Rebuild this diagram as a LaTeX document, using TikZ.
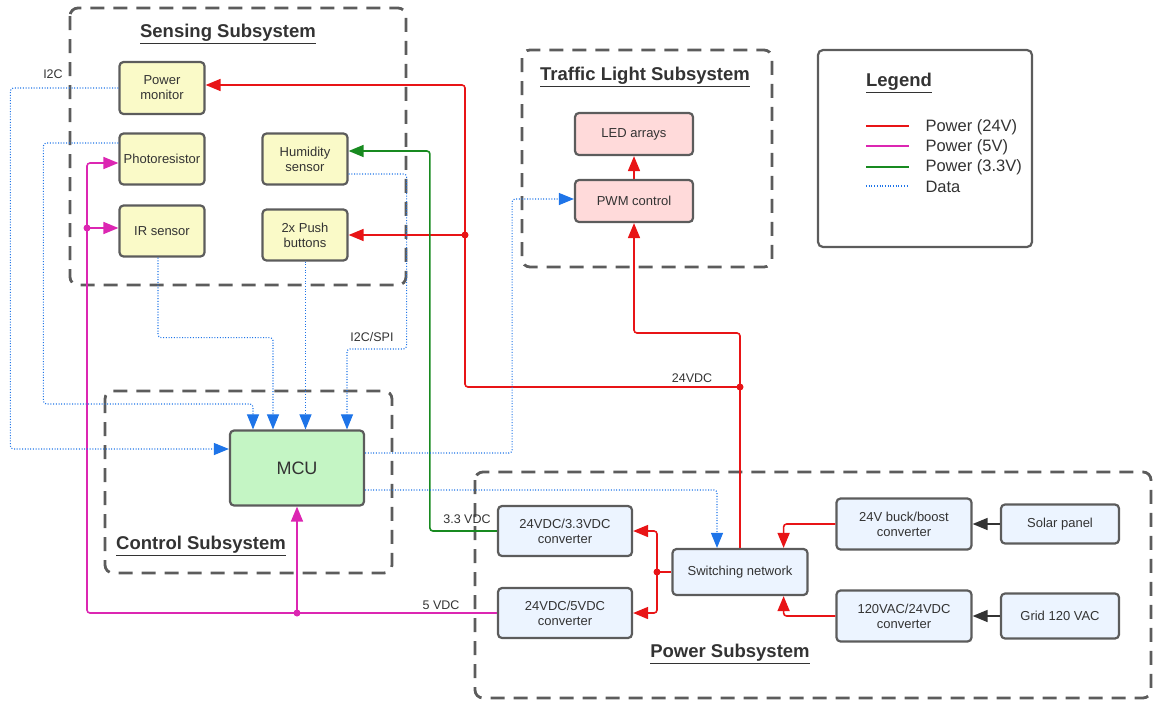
\documentclass[tikz,border=0pt]{standalone}
\usepackage{fontspec}
\setmainfont{Liberation Sans}
\usetikzlibrary{arrows.meta,positioning}
\definecolor{pwrred}{RGB}{232,20,22}
\definecolor{pwrmag}{RGB}{220,38,178}
\definecolor{pwrgreen}{RGB}{24,138,32}
\definecolor{datablue}{RGB}{30,116,232}
\definecolor{framegray}{RGB}{92,92,92}
\definecolor{sensefill}{RGB}{250,250,200}
\definecolor{ledfill}{RGB}{255,218,218}
\definecolor{mcufill}{RGB}{196,245,196}
\definecolor{pwrfill}{RGB}{236,244,255}
\definecolor{txtgray}{RGB}{51,51,51}

\begin{document}
\begin{tikzpicture}[x=1pt,y=-1pt,
    every node/.style={font=\fontsize{13}{15}\selectfont,text=txtgray},
    box/.style={draw=framegray,line width=2.2pt,rounded corners=4pt,align=center,inner sep=2pt},
    frame/.style={draw=framegray,line width=2.8pt,rounded corners=8pt,dash pattern=on 14pt off 9pt},
    title/.style={font=\fontsize{18.5}{22}\selectfont\bfseries},
    lbl/.style={font=\fontsize{12.5}{15}\selectfont},
    p24/.style={draw=pwrred,line width=1.6pt,rounded corners=3pt},
    p5/.style={draw=pwrmag,line width=1.6pt,rounded corners=3pt},
    p33/.style={draw=pwrgreen,line width=1.6pt,rounded corners=3pt},
    dat/.style={draw=datablue,line width=1.1pt,rounded corners=3pt,dash pattern=on 1pt off 1.7pt},
    blk/.style={draw=txtgray,line width=1.6pt},
    tip/.style={-{Triangle[length=15pt,width=12pt]}},
    jdot/.style={circle,inner sep=0pt,minimum size=7pt}]

  \useasboundingbox (0,0) rectangle (1153,702);

  % Subsystem frames
  \draw[frame] (70,8) rectangle (406,285);
  \draw[frame] (522,50) rectangle (772,267);
  \draw[frame] (105,391) rectangle (392,573);
  \draw[frame] (475,472) rectangle (1151,698);
  \draw[draw=framegray,line width=2.2pt,rounded corners=5pt] (818,50) rectangle (1032,247);

  \node[title] (tsense) at (228,34) {\underline{Sensing Subsystem}};
  \node[title] (ttraffic) at (645,77) {\underline{Traffic Light Subsystem}};
  \node[title] (tlegend) at (899,83) {\underline{Legend}};
  \node[title] (tcontrol) at (201,546) {\underline{Control Subsystem}};
  \node[title] (tpower) at (730,654) {\underline{Power Subsystem}};

  % Sensing boxes
  \node[box,fill=sensefill,minimum width=85,minimum height=52] (pmon) at (162,88) {Power\\monitor};
  \node[box,fill=sensefill,minimum width=85,minimum height=51] (photo) at (162,159) {Photoresistor};
  \node[box,fill=sensefill,minimum width=85,minimum height=51] (ir) at (162,231) {IR sensor};
  \node[box,fill=sensefill,minimum width=85,minimum height=51] (hum) at (305,159) {Humidity\\sensor};
  \node[box,fill=sensefill,minimum width=85,minimum height=51] (pbtn) at (305,235) {2x Push\\buttons};

  % Traffic light boxes
  \node[box,fill=ledfill,minimum width=118,minimum height=42] (led) at (634,134) {LED arrays};
  \node[box,fill=ledfill,minimum width=118,minimum height=42] (pwm) at (634,201) {PWM control};

  % Control
  \node[box,fill=mcufill,minimum width=134,minimum height=75,font=\fontsize{18}{21}\selectfont] (mcu) at (297,468) {MCU};

  % Power boxes
  \node[box,fill=pwrfill,minimum width=134,minimum height=50] (c33) at (565,531) {24VDC/3.3VDC\\converter};
  \node[box,fill=pwrfill,minimum width=134,minimum height=50] (c5) at (565,613) {24VDC/5VDC\\converter};
  \node[box,fill=pwrfill,minimum width=135,minimum height=46] (swnet) at (740,572) {Switching network};
  \node[box,fill=pwrfill,minimum width=135,minimum height=51] (buck) at (904,524) {24V buck/boost\\converter};
  \node[box,fill=pwrfill,minimum width=135,minimum height=51] (acdc) at (904,616) {120VAC/24VDC\\converter};
  \node[box,fill=pwrfill,minimum width=118,minimum height=39] (solar) at (1060,524) {Solar panel};
  \node[box,fill=pwrfill,minimum width=118,minimum height=45] (grid) at (1060,616) {Grid 120 VAC};

  % Junctions
  \coordinate (j24) at (740,387);
  \coordinate (jpb) at (465,235);
  \coordinate (jsw) at (657,572);
  \coordinate (j5a) at (87,228);
  \coordinate (j5b) at (297,613);

  % 24V power
  \draw[p24,tip] (swnet.north) -- (j24) -| (jpb) |- ([yshift=3pt]pmon.east);
  \draw[p24,tip] (jpb) -- (pbtn.east);
  \draw[p24,tip] (j24) -- ++(0,-54) -| (pwm.south);
  \draw[p24,tip] (pwm) -- (led);
  \draw[p24,tip] (buck.west) -| ([xshift=-25pt]swnet.north east);
  \draw[p24,tip] (acdc.west) -| ([xshift=-25pt]swnet.south east);
  \draw[p24] (swnet.west) -- (jsw);
  \draw[p24,tip] (jsw) |- (c33.east);
  \draw[p24,tip] (jsw) |- (c5.east);
  \node[jdot,fill=pwrred] (d24) at (j24) {};
  \node[jdot,fill=pwrred] (dpb) at (jpb) {};
  \node[jdot,fill=pwrred] (dsw) at (jsw) {};
  \node[lbl] (l24) at (692,378) {24VDC};

  \draw[blk,tip] (solar) -- (buck);
  \draw[blk,tip] (grid) -- (acdc);

  % 3.3V power
  \draw[p33,tip] (c33.west) -- ++(-67,0) |- ([yshift=8pt]hum.east);
  \node[lbl] (l33) at (467,519) {3.3 VDC};

  % 5V power
  \draw[p5,tip] (c5.west) -| (j5a) |- ([yshift=-4pt]photo.west);
  \draw[p5,tip] (j5a) -- (ir.west |- j5a);
  \draw[p5,tip] (j5b) -- (mcu.south);
  \node[jdot,fill=pwrmag] (d5a) at (j5a) {};
  \node[jdot,fill=pwrmag] (d5b) at (j5b) {};
  \node[lbl] (l5) at (441,605) {5 VDC};

  % Data
  \draw[dat,tip] (pmon.west) -- ++(-108,0) |- ([yshift=19pt]mcu.west);
  \node[lbl] (li2c) at (53,74) {I2C};
  \draw[dat,tip] ([yshift=16pt]photo.west) -- ++(-75,0) -- ++(0,261) -| ([xshift=-44pt]mcu.north);
  \draw[dat,tip] ([xshift=-4pt]ir.south) -- ++(0,80) -| ([xshift=-24pt]mcu.north);
  \draw[dat,tip] ([xshift=0.5pt]pbtn.south) -- ([xshift=8.5pt]mcu.north);
  \draw[dat,tip] ([yshift=-15pt]hum.east) -- ++(58,0) -- ++(0,175) -| ([xshift=50pt]mcu.north);
  \node[lbl] (lspi) at (372,337) {I2C/SPI};
  \draw[dat,tip] ([yshift=15pt]mcu.east) -- ++(147,0) |- ([yshift=2pt]pwm.west);
  \draw[dat,tip] ([yshift=-22pt]mcu.east) -| ([xshift=-23pt]swnet.north);

  % Legend
  \draw[p24] (866,126) -- (909,126);
  \draw[p5] (866,146) -- (909,146);
  \draw[p33] (866,167) -- (909,167);
  \draw[dat] (866,186) -- (909,186);
  \node[anchor=west,font=\fontsize{16.5}{19}\selectfont] (lg1) at (922,127) {Power (24V)};
  \node[anchor=west,font=\fontsize{16.5}{19}\selectfont] (lg2) at (922,147) {Power (5V)};
  \node[anchor=west,font=\fontsize{16.5}{19}\selectfont] (lg3) at (922,167) {Power (3.3V)};
  \node[anchor=west,font=\fontsize{16.5}{19}\selectfont] (lg4) at (922,187) {Data};

\end{tikzpicture}
\end{document}
